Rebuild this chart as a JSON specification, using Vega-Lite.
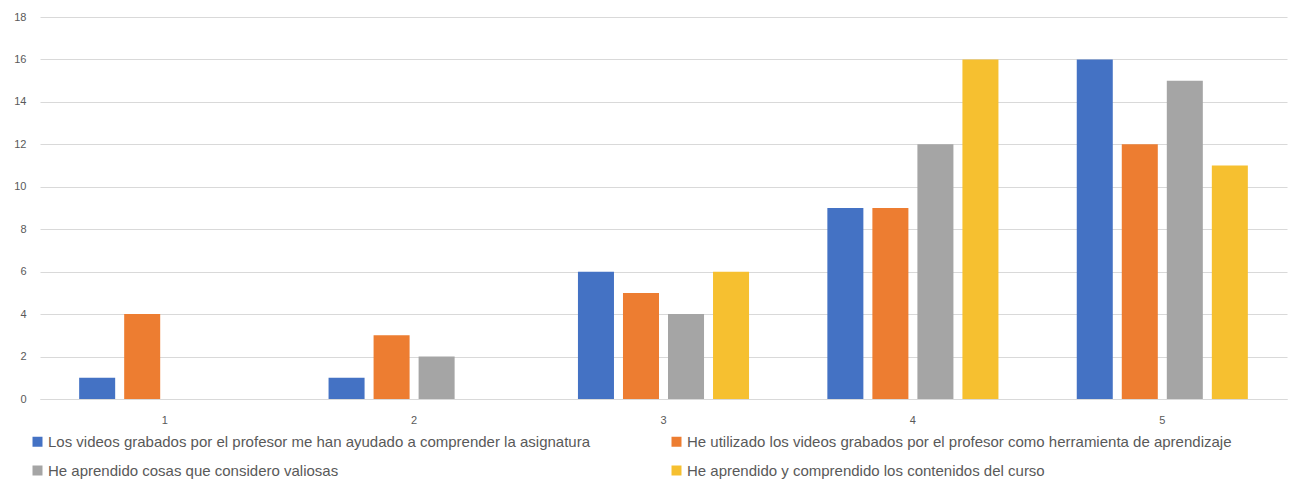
{
  "$schema": "https://vega.github.io/schema/vega-lite/v6.json",
  "autosize": {"type": "none"},
  "padding": {"left": 40, "top": 17, "right": 11, "bottom": 82},
  "width": 1247,
  "height": 382,
  "background": "white",
  "config": {
    "font": "Liberation Sans",
    "view": {"stroke": null}
  },
  "data": {
    "values": [
      {"cat": "1", "serie": "Los videos grabados por el profesor me han ayudado a comprender la asignatura", "v": 1},
      {"cat": "1", "serie": "He utilizado los videos grabados por el profesor como herramienta de aprendizaje", "v": 4},
      {"cat": "1", "serie": "He aprendido cosas que considero valiosas", "v": 0},
      {"cat": "1", "serie": "He aprendido y comprendido los contenidos del curso", "v": 0},
      {"cat": "2", "serie": "Los videos grabados por el profesor me han ayudado a comprender la asignatura", "v": 1},
      {"cat": "2", "serie": "He utilizado los videos grabados por el profesor como herramienta de aprendizaje", "v": 3},
      {"cat": "2", "serie": "He aprendido cosas que considero valiosas", "v": 2},
      {"cat": "2", "serie": "He aprendido y comprendido los contenidos del curso", "v": 0},
      {"cat": "3", "serie": "Los videos grabados por el profesor me han ayudado a comprender la asignatura", "v": 6},
      {"cat": "3", "serie": "He utilizado los videos grabados por el profesor como herramienta de aprendizaje", "v": 5},
      {"cat": "3", "serie": "He aprendido cosas que considero valiosas", "v": 4},
      {"cat": "3", "serie": "He aprendido y comprendido los contenidos del curso", "v": 6},
      {"cat": "4", "serie": "Los videos grabados por el profesor me han ayudado a comprender la asignatura", "v": 9},
      {"cat": "4", "serie": "He utilizado los videos grabados por el profesor como herramienta de aprendizaje", "v": 9},
      {"cat": "4", "serie": "He aprendido cosas que considero valiosas", "v": 12},
      {"cat": "4", "serie": "He aprendido y comprendido los contenidos del curso", "v": 16},
      {"cat": "5", "serie": "Los videos grabados por el profesor me han ayudado a comprender la asignatura", "v": 16},
      {"cat": "5", "serie": "He utilizado los videos grabados por el profesor como herramienta de aprendizaje", "v": 12},
      {"cat": "5", "serie": "He aprendido cosas que considero valiosas", "v": 15},
      {"cat": "5", "serie": "He aprendido y comprendido los contenidos del curso", "v": 11}
    ]
  },
  "mark": {"type": "bar"},
  "encoding": {
    "x": {
      "field": "cat", "type": "nominal",
      "scale": {"paddingInner": 0.314, "paddingOuter": 0.157},
      "axis": {
        "title": null, "labelAngle": 0, "ticks": false,
        "domainColor": "#D9D9D9", "domainWidth": 1,
        "labelColor": "#595959", "labelFontSize": 11, "labelPadding": 15
      }
    },
    "xOffset": {
      "field": "serie", "type": "nominal",
      "sort": [
        "Los videos grabados por el profesor me han ayudado a comprender la asignatura",
        "He utilizado los videos grabados por el profesor como herramienta de aprendizaje",
        "He aprendido cosas que considero valiosas",
        "He aprendido y comprendido los contenidos del curso"
      ],
      "scale": {"paddingInner": 0.2, "paddingOuter": 0}
    },
    "y": {
      "field": "v", "type": "quantitative",
      "scale": {"domain": [0, 18], "nice": false},
      "axis": {
        "title": null, "values": [0, 2, 4, 6, 8, 10, 12, 14, 16, 18],
        "domain": false, "ticks": false, "gridColor": "#D9D9D9",
        "labelColor": "#595959", "labelFontSize": 11, "labelPadding": 14
      }
    },
    "color": {
      "field": "serie", "type": "nominal",
      "scale": {
        "domain": [
          "Los videos grabados por el profesor me han ayudado a comprender la asignatura",
          "He utilizado los videos grabados por el profesor como herramienta de aprendizaje",
          "He aprendido cosas que considero valiosas",
          "He aprendido y comprendido los contenidos del curso"
        ],
        "range": ["#4472C4", "#ED7D31", "#A5A5A5", "#F6C030"]
      },
      "legend": {
        "title": null, "orient": "none", "legendX": -10, "legendY": 417,
        "values": [
          "Los videos grabados por el profesor me han ayudado a comprender la asignatura",
          "He aprendido cosas que considero valiosas",
          "He utilizado los videos grabados por el profesor como herramienta de aprendizaje",
          "He aprendido y comprendido los contenidos del curso"
        ],
        "columns": 2, "columnPadding": 78, "rowPadding": 13,
        "symbolType": "square", "symbolSize": 100, "symbolStrokeWidth": 0,
        "labelColor": "#595959", "labelFontSize": 15, "labelLimit": 800,
        "labelOffset": 3
      }
    }
  }
}
